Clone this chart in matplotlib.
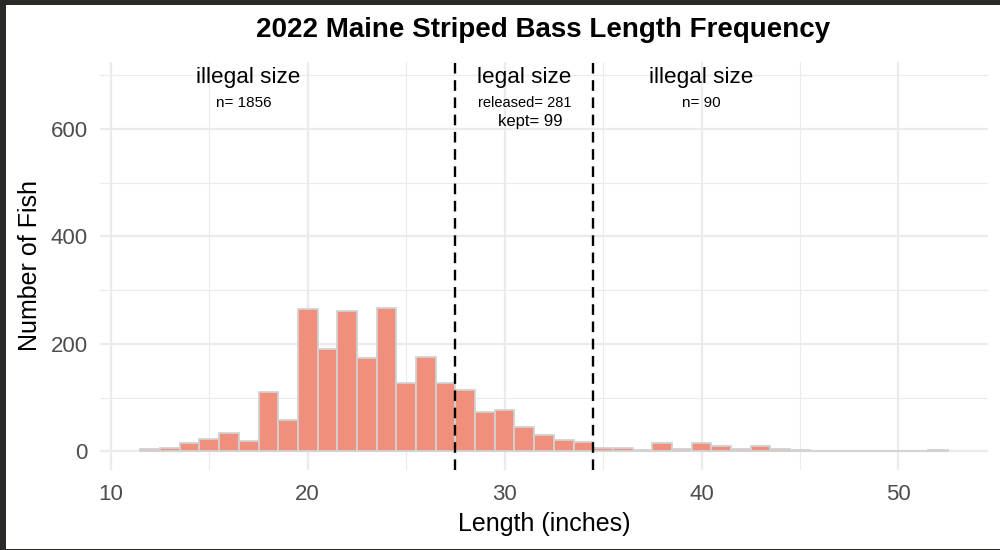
import numpy as np
import matplotlib
matplotlib.use("Agg")
from matplotlib import pyplot as plt
from matplotlib.patches import Rectangle

# length (inches), fish counts per 1-inch bin
lengths = list(range(12, 53))
counts = [4, 6, 15, 24, 34, 19, 110, 58, 265, 190, 262, 173, 266, 127, 176, 127,
          114, 74, 77, 45, 31, 22, 17,
          7, 7, 3, 16, 5, 16, 10, 4, 10, 5, 2, 1, 1, 1, 0, 0, 0, 2]

slot_limits = [27.5, 34.5]
zone_labels = ["illegal size", "legal size", "illegal size"]
zone_x = [17, 31, 40]
zone_counts = ["n= 1856", "released= 281", "n= 90"]
kept_label = "kept= 99"

plt.rcParams['font.family'] = ['Liberation Sans', 'DejaVu Sans']

fig = plt.figure(figsize=(10, 5.5), dpi=100, facecolor='#2b2925')
# white chart area over the dark photo background
fig.patches.append(Rectangle((0.006, 0.002), 0.994, 0.989, transform=fig.transFigure,
                             facecolor='white', edgecolor='none', zorder=-10))

ax = fig.add_axes([0.1, 0.1455, 0.888, 0.742])
ax.set_zorder(2)
ax.set_facecolor('white')

ax.bar(lengths, counts, width=1, color='#F0907C', edgecolor='#D2D2D2', linewidth=1.3, zorder=3)

for lim in slot_limits:
    ax.axvline(lim, color='black', linestyle=(0, (4.5, 2.8)), linewidth=1.7, zorder=4)

for x, lab in zip(zone_x, zone_labels):
    ax.text(x, 696, lab, ha='center', va='center', fontsize=16.2, zorder=5)
ax.text(16.75, 648, zone_counts[0], ha='center', va='center', fontsize=11)
ax.text(31.0, 648, zone_counts[1], ha='center', va='center', fontsize=10.5)
ax.text(40.0, 648, zone_counts[2], ha='center', va='center', fontsize=11)
ax.text(31.3, 614, kept_label, ha='center', va='center', fontsize=12)

ax.set_xlim(9.45, 54.55)
ax.set_ylim(-34.5, 724.5)
ax.set_xticks([10, 20, 30, 40, 50])
ax.set_xticks([15, 25, 35, 45], minor=True)
ax.set_yticks([0, 200, 400, 600])
ax.set_yticks([100, 300, 500, 700], minor=True)
ax.grid(which='major', color='#EBEBEB', linewidth=1.6, zorder=0)
ax.grid(which='minor', color='#EBEBEB', linewidth=0.8, zorder=0)
ax.set_axisbelow(True)
for s in ax.spines.values():
    s.set_visible(False)
ax.tick_params(which='both', length=0, labelsize=16, labelcolor='#4D4D4D')
ax.tick_params(axis='x', pad=10)
ax.tick_params(axis='y', pad=9)

ax.set_xlabel('Length (inches)', fontsize=18, labelpad=5)
ax.set_ylabel('Number of Fish', fontsize=18, labelpad=6)
fig.text(0.543, 0.945, '2022 Maine Striped Bass Length Frequency', ha='center', va='center',
         fontsize=20, fontweight='bold')

fig.savefig('out.png', dpi=100, facecolor=fig.get_facecolor())
